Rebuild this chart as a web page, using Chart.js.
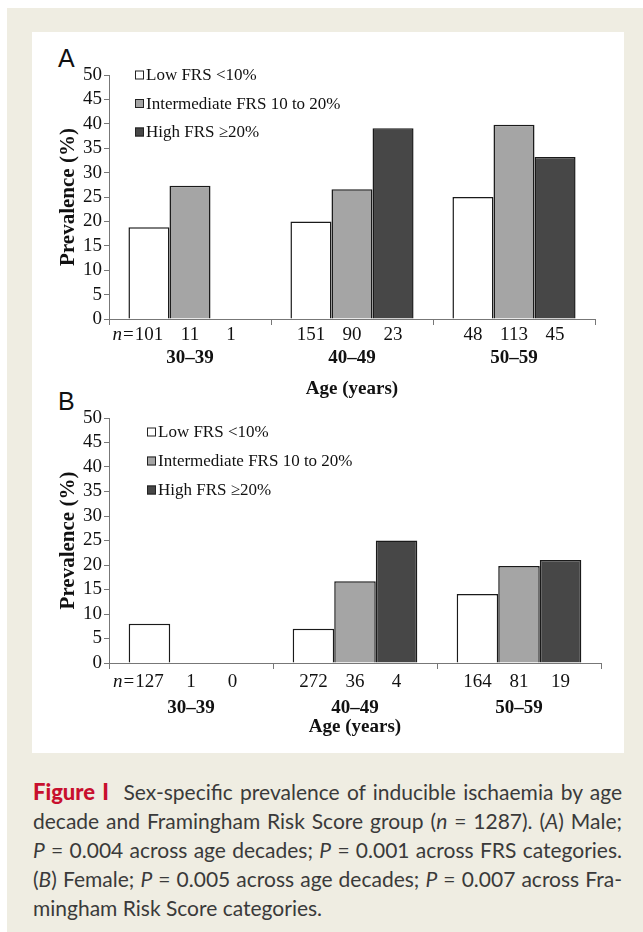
<!DOCTYPE html>
<html>
<head>
<meta charset="utf-8">
<script src="https://cdn.jsdelivr.net/npm/chart.js@4.4.0/dist/chart.umd.min.js"></script>
<style>
  body { margin: 0; width: 643px; height: 932px; background: #fff; position: relative; overflow: hidden; }
  #frame { position: absolute; left: 7px; top: 8px; right: 0; bottom: 0; background: #efede2; }
  #panel { position: absolute; left: 32px; top: 32px; width: 592px; height: 721px; background: #fff; }
  .wrap { position: absolute; left: 0; width: 643px; }
  #wrapA { top: 40px; height: 360px; }
  #wrapB { top: 400px; height: 338px; }
  .letter { position: absolute; font-family: "Liberation Sans"; font-size: 25px; color: #111; line-height: 1; }
  #caption { position: absolute; left: 33px; top: 777px; width: 589px; font-family: Lato; font-size: 21px; line-height: 29px; color: #3a3a3a; }
  #caption .ln { text-align: justify; text-align-last: justify; }
  #caption .ln.last { text-align-last: left; }
  #caption .fig { color: #c8102e; font-weight: 900; font-size: 22px; }
</style>
</head>
<body>
<div id="frame"></div>
<div id="panel"></div>
<div class="letter" style="left:58px;top:46px;">A</div>
<div class="letter" style="left:58px;top:389px;">B</div>
<div class="wrap" id="wrapA"><canvas id="maleChart"></canvas></div>
<div class="wrap" id="wrapB"><canvas id="femaleChart"></canvas></div>
<div id="caption">
  <div class="ln"><span class="fig">Figure I</span>&nbsp; Sex-specific prevalence of inducible ischaemia by age</div>
  <div class="ln">decade and Framingham Risk Score group (<i>n</i> = 1287). (<i>A</i>) Male;</div>
  <div class="ln"><i>P</i> = 0.004 across age decades; <i>P</i> = 0.001 across FRS categories.</div>
  <div class="ln">(<i>B</i>) Female; <i>P</i> = 0.005 across age decades; <i>P</i> = 0.007 across Fra-</div>
  <div class="ln last">mingham Risk Score categories.</div>
</div>
<script>
const ageGroups = ['30–39', '40–49', '50–59'];
const frsLabels = ['Low FRS <10%', 'Intermediate FRS 10 to 20%', 'High FRS ≥20%'];

// male (A), prevalence %
const maleLow = [18.8, 20.0, 25.0];
const maleMid = [27.3, 26.6, 39.8];
const maleHigh = [0, 39.1, 33.2];
const maleNLow = [101, 151, 48];
const maleNMid = [11, 90, 113];
const maleNHigh = [1, 23, 45];

// female (B)
const femaleLow = [8.0, 7.0, 14.1];
const femaleMid = [0, 16.7, 19.8];
const femaleHigh = [0, 25.0, 21.0];
const femaleNLow = [127, 272, 164];
const femaleNMid = [1, 36, 81];
const femaleNHigh = [0, 4, 19];

const barColors = ['#ffffff', '#a5a5a5', '#474747'];
const serif = '"Liberation Serif", "Times New Roman", serif';

// legend in the plot + n= counts under each bar
const extras = {
  id: 'extras',
  afterDraw(chart, args, opts) {
    const ctx = chart.ctx;
    const area = chart.chartArea;
    ctx.save();
    ctx.textBaseline = 'middle';
    ctx.font = '17px ' + serif;
    chart.data.datasets.forEach((ds, i) => {
      const y = opts.legendY + i * opts.legendGap;
      ctx.fillStyle = ds.backgroundColor;
      ctx.fillRect(opts.legendX, y - 4.5, 9, 9);
      ctx.strokeStyle = '#222';
      ctx.lineWidth = 1;
      ctx.strokeRect(opts.legendX + 0.5, y - 4, 8, 8);
      ctx.fillStyle = '#111';
      ctx.textAlign = 'left';
      ctx.fillText(ds.label, opts.legendX + 11, y + 1);
    });

    ctx.font = '19px ' + serif;
    const ny = area.bottom + opts.nOffset;
    chart.data.datasets.forEach((ds, i) => {
      chart.getDatasetMeta(i).data.forEach((bar, j) => {
        ctx.textAlign = 'center';
        ctx.fillText(String(ds.counts[j]), bar.x, ny);
      });
    });
    const first = chart.getDatasetMeta(0).data[0];
    const firstW = ctx.measureText(String(chart.data.datasets[0].counts[0])).width;
    let x = first.x - firstW / 2 - 1;
    ctx.textAlign = 'right';
    ctx.fillText('=', x, ny);
    x -= ctx.measureText('=').width + 1;
    ctx.font = 'italic 19px ' + serif;
    ctx.fillText('n', x, ny);
    ctx.restore();
  }
};

function makeChart(id, low, mid, high, nLow, nMid, nHigh, geo) {
  const sets = [low, mid, high];
  const counts = [nLow, nMid, nHigh];
  return new Chart(document.getElementById(id), {
    type: 'bar',
    data: {
      labels: ageGroups,
      datasets: sets.map((d, i) => ({
        label: frsLabels[i],
        data: d,
        counts: counts[i],
        backgroundColor: barColors[i],
        borderColor: '#1a1a1a',
        borderWidth: 1.5,
        borderSkipped: 'bottom',
        categoryPercentage: 0.76,
        barPercentage: 1.0
      }))
    },
    plugins: [extras],
    options: {
      responsive: true,
      maintainAspectRatio: false,
      animation: false,
      layout: { padding: { left: 0, right: geo.right, top: geo.top, bottom: 0 } },
      plugins: {
        legend: { display: false },
        tooltip: { enabled: false },
        extras: { legendX: geo.legendX, legendY: geo.legendY, legendGap: geo.legendGap, nOffset: geo.nOffset }
      },
      scales: {
        x: {
          afterFit: (s) => { s.height = geo.xHeight; },
          grid: { offset: true, drawOnChartArea: false, tickLength: 6, color: '#777' },
          border: { color: '#777', width: 1 },
          ticks: { color: '#111', padding: geo.ageGap, font: { family: serif, size: 19, weight: 'bold' } },
          title: { display: true, text: 'Age (years)', color: '#111', padding: { top: 0, bottom: 0 },
                   font: { family: serif, size: 19, weight: 'bold' } }
        },
        y: {
          min: 0, max: 50,
          afterFit: (s) => { s.width = geo.left; },
          grid: { drawOnChartArea: false, tickLength: 5, color: '#777' },
          border: { color: '#777', width: 1 },
          ticks: { stepSize: 5, autoSkip: false, color: '#111', padding: 2, font: { family: serif, size: 19 } },
          title: { display: true, text: 'Prevalence (%)', color: '#111', padding: { top: 56, bottom: 0 },
                   font: { family: serif, size: 21, weight: 'bold' } }
        }
      }
    }
  });
}

makeChart('maleChart', maleLow, maleMid, maleHigh, maleNLow, maleNMid, maleNHigh,
  { left: 109, right: 48, top: 35, xHeight: 81, ageGap: 22, nOffset: 16, legendX: 135, legendY: 35, legendGap: 28.5 });
makeChart('femaleChart', femaleLow, femaleMid, femaleHigh, femaleNLow, femaleNMid, femaleNHigh,
  { left: 109, right: 42, top: 18, xHeight: 75, ageGap: 28, nOffset: 19, legendX: 147, legendY: 32, legendGap: 29 });
</script>
</body>
</html>
